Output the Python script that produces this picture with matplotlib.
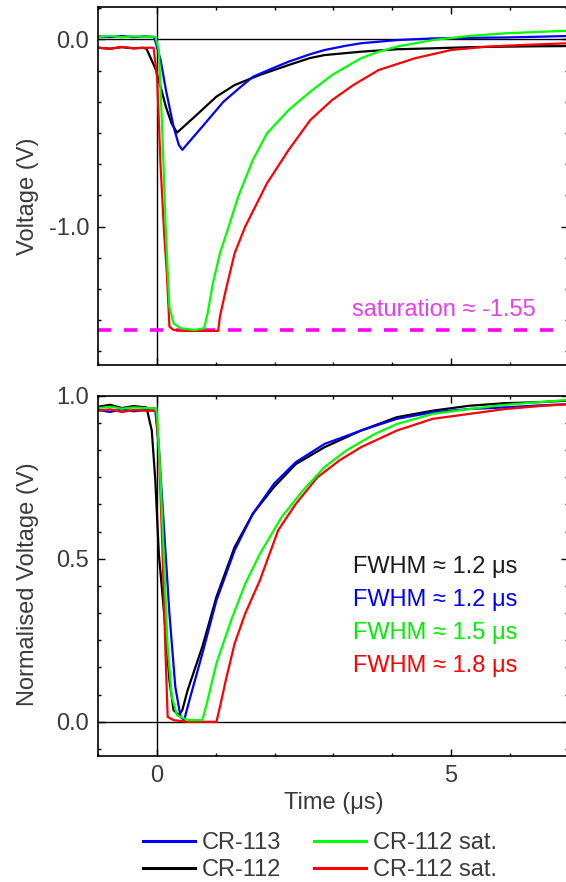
# voltage pulses of CR-112 / CR-113, raw and normalised
import matplotlib.pyplot as plt
from matplotlib.ticker import MultipleLocator, AutoMinorLocator

plt.rcParams['font.family'] = ['Liberation Sans', 'DejaVu Sans']
plt.rcParams['font.size'] = 17

# --- top panel: raw voltage (V) ---
t_blue_top = [-1.0, -0.8, -0.6, -0.4, -0.2, -0.05, 0.06, 0.15, 0.28, 0.37, 0.43, 0.55, 0.77, 1.13,
              1.4, 1.63, 2.0, 2.24, 2.6, 2.85, 3.2, 3.47, 4.08, 4.69, 5.3, 5.92, 6.5, 7.0]
v_blue_top = [0.016, 0.012, 0.018, 0.012, 0.016, 0.012, -0.11, -0.27, -0.466, -0.564, -0.59, -0.546,
              -0.466, -0.333, -0.26, -0.2, -0.15, -0.119, -0.08, -0.057, -0.035, -0.021, -0.004,
              0.005, 0.008, 0.01, 0.014, 0.018]

t_black_top = [-1.0, -0.8, -0.6, -0.4, -0.25, -0.18, -0.03, 0.06, 0.15, 0.245, 0.34, 0.64, 1.01,
               1.32, 1.75, 2.24, 2.6, 2.85, 3.47, 4.08, 4.69, 5.3, 5.92, 6.5, 7.0]
v_black_top = [-0.045, -0.05, -0.042, -0.048, -0.045, -0.05, -0.155, -0.253, -0.36, -0.448, -0.498,
               -0.413, -0.306, -0.244, -0.19, -0.137, -0.1, -0.084, -0.066, -0.053, -0.048, -0.042,
               -0.039, -0.037, -0.036]

t_green_top = [-1.0, -0.8, -0.6, -0.4, -0.2, -0.03, 0.03, 0.09, 0.15, 0.21, 0.28, 0.4, 0.64, 0.8,
               0.86, 0.95, 1.07, 1.2, 1.38, 1.63, 1.87, 2.24, 2.61, 2.98, 3.47, 3.77, 4.08, 4.69,
               5.31, 5.92, 6.5, 7.0]
v_green_top = [0.014, 0.018, 0.012, 0.016, 0.014, 0.014, -0.057, -0.5, -1.035, -1.427, -1.516,
               -1.543, -1.552, -1.543, -1.463, -1.302, -1.142, -1.018, -0.84, -0.644, -0.502,
               -0.377, -0.279, -0.19, -0.101, -0.066, -0.039, -0.004, 0.018, 0.032, 0.04, 0.046]

t_red_top = [-1.0, -0.8, -0.6, -0.4, -0.2, -0.06, 0.0, 0.06, 0.12, 0.166, 0.21, 0.28, 0.52, 1.04,
             1.07, 1.17, 1.32, 1.5, 1.87, 2.24, 2.61, 2.98, 3.34, 3.77, 4.39, 5.0, 5.61, 6.23, 7.0]
v_red_top = [-0.045, -0.05, -0.04, -0.048, -0.045, -0.045, -0.2, -0.68, -1.035, -1.249, -1.534,
             -1.552, -1.557, -1.557, -1.48, -1.338, -1.142, -1.0, -0.769, -0.59, -0.43, -0.324,
             -0.244, -0.164, -0.101, -0.057, -0.039, -0.03, -0.021]

saturation = -1.55

# --- bottom panel: normalised voltage ---
t_black_bot = [-1.0, -0.8, -0.6, -0.4, -0.18, -0.09, -0.03, 0.03, 0.12, 0.21, 0.28, 0.37, 0.43,
               0.52, 0.77, 1.01, 1.32, 1.63, 1.99, 2.36, 2.85, 3.47, 4.08, 4.69, 5.31, 5.92, 6.5, 7.0]
v_black_bot = [0.966, 0.972, 0.962, 0.968, 0.964, 0.893, 0.74, 0.515, 0.332, 0.128, 0.036, 0.02,
               0.036, 0.097, 0.23, 0.383, 0.536, 0.638, 0.72, 0.79, 0.842, 0.893, 0.934, 0.954,
               0.969, 0.977, 0.98, 0.985]

t_blue_bot = [-1.0, -0.8, -0.6, -0.4, -0.2, -0.03, 0.03, 0.12, 0.21, 0.31, 0.4, 0.46, 0.55, 0.77,
              1.01, 1.32, 1.63, 1.99, 2.36, 2.85, 3.47, 4.08, 4.69, 5.31, 5.92, 6.5, 7.0]
v_blue_bot = [0.956, 0.95, 0.958, 0.952, 0.956, 0.954, 0.842, 0.587, 0.332, 0.107, 0.015, 0.005,
              0.066, 0.209, 0.372, 0.526, 0.638, 0.73, 0.796, 0.852, 0.893, 0.929, 0.949, 0.959,
              0.964, 0.97, 0.974]

t_green_bot = [-1.0, -0.8, -0.6, -0.4, -0.2, -0.02, 0.0, 0.06, 0.12, 0.18, 0.25, 0.34, 0.52, 0.77,
               0.86, 1.01, 1.26, 1.5, 1.75, 2.12, 2.48, 2.85, 3.22, 3.71, 4.08, 4.69, 5.31, 5.92,
               6.5, 7.0]
v_green_bot = [0.962, 0.966, 0.96, 0.964, 0.962, 0.962, 0.944, 0.74, 0.485, 0.23, 0.077, 0.02,
               0.005, 0.005, 0.066, 0.179, 0.311, 0.423, 0.515, 0.628, 0.709, 0.781, 0.832, 0.883,
               0.913, 0.944, 0.959, 0.972, 0.98, 0.987]

t_red_bot = [-1.0, -0.8, -0.6, -0.4, -0.2, -0.02, 0.03, 0.09, 0.14, 0.18, 0.28, 0.52, 1.01, 1.07,
             1.17, 1.32, 1.5, 1.75, 2.06, 2.36, 2.73, 3.1, 3.47, 4.08, 4.69, 5.31, 5.92, 6.5, 7.0]
v_red_bot = [0.954, 0.958, 0.95, 0.956, 0.954, 0.954, 0.842, 0.536, 0.23, 0.015, 0.005, 0.0, 0.0,
             0.046, 0.128, 0.24, 0.332, 0.434, 0.587, 0.668, 0.75, 0.801, 0.842, 0.893, 0.929,
             0.944, 0.959, 0.968, 0.974]

fwhm_labels = ['FWHM ≈ 1.2 μs', 'FWHM ≈ 1.2 μs', 'FWHM ≈ 1.5 μs', 'FWHM ≈ 1.8 μs']
fwhm_colors = ['#1a1a1a', '#0000ff', '#00ee00', '#ff0000']
fwhm_y = [0.4735, 0.3725, 0.2715, 0.1705]

TXT = '#3a3a3a'

fig = plt.figure(figsize=(5.66, 8.82), dpi=100)
ax1 = fig.add_axes([0.1737, 0.5862, 0.8306, 0.4055])
ax2 = fig.add_axes([0.1737, 0.1432, 0.8306, 0.4082])

lw = 1.6
for ax in (ax1, ax2):
    ax.axhline(0, color='black', lw=1.0, zorder=1)
    ax.axvline(0, color='black', lw=1.0, zorder=1)

# top
ax1.plot(t_black_top, v_black_top, color='black', lw=lw)
ax1.plot(t_blue_top, v_blue_top, color='#0000ff', lw=lw)
ax1.plot(t_red_top, v_red_top, color='#ff0000', lw=lw)
ax1.plot(t_green_top, v_green_top, color='#00ff00', lw=lw)
ax1.axhline(saturation, color='#ff00ff', lw=2.6, dashes=(3.6, 3.6), zorder=1)
ax1.text(3.31, -1.443, 'saturation ≈ -1.55', color='#e83ee8', ha='left', va='center')

# bottom
l_black, = ax2.plot(t_black_bot, v_black_bot, color='black', lw=lw)
l_blue, = ax2.plot(t_blue_bot, v_blue_bot, color='#0000ff', lw=lw)
l_red, = ax2.plot(t_red_bot, v_red_bot, color='#ff0000', lw=lw)
l_green, = ax2.plot(t_green_bot, v_green_bot, color='#00ff00', lw=lw)
for lab, c, y in zip(fwhm_labels, fwhm_colors, fwhm_y):
    ax2.text(3.342, y, lab, color=c, ha='left', va='center')

ax1.set_xlim(-1, 7)
ax2.set_xlim(-1, 7)
ax1.set_ylim(-1.739, 0.171)
ax2.set_ylim(-0.104, 1.0)

ax1.yaxis.set_major_locator(MultipleLocator(1.0))
ax1.yaxis.set_minor_locator(AutoMinorLocator(6))
ax1.yaxis.set_major_formatter(plt.FormatStrFormatter('%.1f'))
ax2.yaxis.set_major_locator(MultipleLocator(0.5))
ax2.yaxis.set_minor_locator(AutoMinorLocator(6))
ax2.yaxis.set_major_formatter(plt.FormatStrFormatter('%.1f'))
for ax in (ax1, ax2):
    ax.xaxis.set_major_locator(MultipleLocator(5))
    ax.xaxis.set_minor_locator(MultipleLocator(1))
    ax.tick_params(which='both', direction='in', top=True, right=True, colors='black',
                   labelcolor=TXT, width=1.0, pad=6.5)
    ax.tick_params(which='major', length=5)
    ax.tick_params(which='minor', length=2.5)
    for s in ax.spines.values():
        s.set_linewidth(1.2)
ax1.tick_params(labelbottom=False)

ax1.set_ylabel('Voltage (V)', color=TXT)
ax2.set_ylabel('Normalised Voltage (V)', color=TXT)
ax1.yaxis.set_label_coords(-0.126, 0.471)
ax2.yaxis.set_label_coords(-0.126, 0.477)
ax2.set_xlabel('Time (μs)', color=TXT, labelpad=4)

fig.legend([l_blue, l_black, l_green, l_red],
           ['CR-113', 'CR-112', 'CR-112 sat.', 'CR-112 sat.'],
           ncol=2, loc='center', bbox_to_anchor=(0.565, 0.029), frameon=False,
           handlelength=2.2, handletextpad=0.28, columnspacing=1.4, labelspacing=0.2,
           borderpad=0, borderaxespad=0, labelcolor=TXT)
for h in fig.legends[0].get_lines():
    h.set_linewidth(2.2)

fig.savefig('out.png', dpi=100)
